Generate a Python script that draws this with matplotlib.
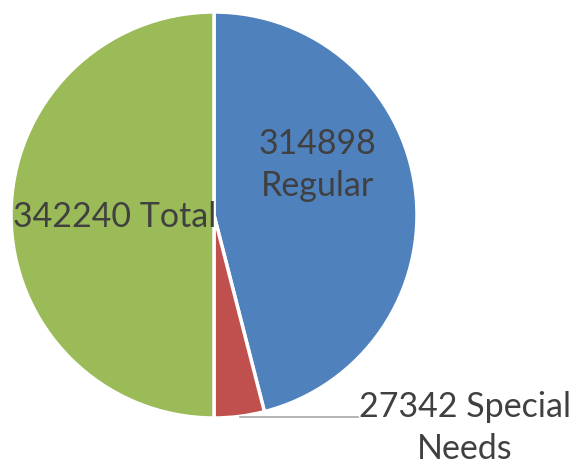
import matplotlib
matplotlib.use('Agg')
import matplotlib.pyplot as plt

labels = ['Regular', 'Special Needs', 'Total']
values = [314898, 27342, 342240]
colors = ['#4F81BD', '#C0504D', '#9BBB59']

plt.rcParams['font.family'] = ['Lato', 'DejaVu Sans']

fig = plt.figure(figsize=(5.75, 4.68), dpi=100)
ax = fig.add_axes([0, 0, 1, 1])
ax.pie(values, colors=colors, startangle=90, counterclock=False,
       radius=1.0, wedgeprops={'edgecolor': 'white', 'linewidth': 2.5})
ax.set_xlim(-214 / 203, (575 - 214) / 203)
ax.set_ylim(-(468 - 215) / 203, 215 / 203)
ax.set_aspect('auto')
ax.axis('off')

txt = dict(color='#404040', fontsize=24.5, ha='center', va='center',
           linespacing=1.38)
ax.text(0.512, 0.245, '%d\n%s' % (values[0], labels[0]), **txt)
ax.text(-0.488, -0.01, '%d %s' % (values[2], labels[2]), **txt)
ax.text(1.236, -1.05, '%d Special\nNeeds' % values[1], **txt)
# leader line for the small slice
ax.plot([0.128, 0.709], [-0.995, -0.995], color='#A6A6A6', lw=1.2)

fig.savefig('out.png', dpi=100)
